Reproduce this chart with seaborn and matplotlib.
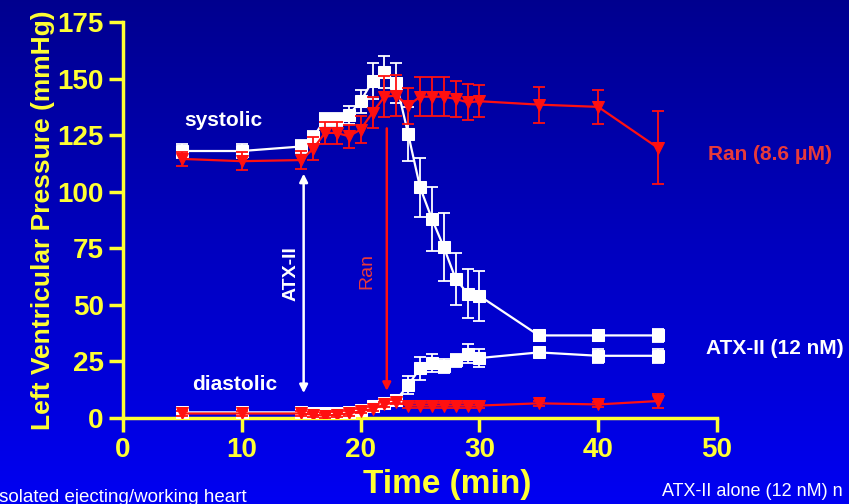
import numpy as np
import pandas as pd
import matplotlib
matplotlib.use("Agg")
import matplotlib.pyplot as plt
import seaborn as sns

# ---- data ----
time = [5, 10, 15, 16, 17, 18, 19, 20, 21, 22, 23, 24, 25, 26, 27, 28, 29, 30, 35, 40, 45]
atx_sys = [118, 118, 120, 124, 132, 132, 134, 140, 149, 153, 148, 125.5, 102, 88, 75.5, 61.5, 55, 54, 36.5, 36.5, 36.5]
atx_sys_err = [3, 3, 3, 3, 3, 3, 4, 5, 8, 7, 9, 12, 13, 14, 15, 11.5, 11, 11, 2.5, 2.5, 3]
ran_sys = [114.5, 113.5, 114, 119, 126, 126, 124.5, 127.5, 135, 142, 142.5, 138, 142, 142, 142, 141, 139.5, 140, 138.5, 137.5, 119.5]
ran_sys_err = [3, 4, 4, 5, 5, 5, 5, 6, 7, 9, 9, 8, 8.5, 8.5, 8.5, 8, 8, 7, 8, 7.5, 16]
atx_dia = [2.5, 2.5, 2.5, 2, 2, 2, 2.5, 3.5, 5.5, 6.5, 8, 14.5, 22, 24.5, 23, 25.5, 28.5, 26.5, 29, 27.5, 27.5]
atx_dia_err = [1, 1, 1, 1, 1, 1, 1, 1, 1, 1, 2, 4, 5, 4, 3, 3, 4, 4, 2, 3, 3]
ran_dia = [2, 2, 2, 1.5, 1, 1.5, 2, 3, 4, 6, 7, 5.5, 5.5, 5.5, 5.5, 5.5, 5.5, 5.5, 6.5, 6, 7.5]
ran_dia_err = [1, 1, 1, 1, 1, 1, 1, 1, 1, 1, 1, 1, 1, 1, 1, 1, 1, 1, 1, 1, 3]
xticks = [0, 10, 20, 30, 40, 50]
yticks = [0, 25, 50, 75, 100, 125, 150, 175]

sns.set_theme(style="ticks")
plt.rcParams['font.family'] = ['Liberation Sans', 'DejaVu Sans']

YEL = '#ffff33'
WHITE = '#ffffff'
RED = '#ff1010'
LRED = '#e83a3a'

fig = plt.figure(figsize=(8.49, 5.04), dpi=100)
# gradient background
bg = fig.add_axes([0, 0, 1, 1], zorder=-10)
grad = np.linspace(0, 1, 256).reshape(-1, 1)
top = np.array([0.0, 0.0, 0.56])
bot = np.array([0.0, 0.0, 0.95])
img = top[None, None, :] * (1 - grad[:, :, None]) + bot[None, None, :] * grad[:, :, None]
bg.imshow(img, aspect='auto', extent=[0, 1, 0, 1])
bg.axis('off')

ax = fig.add_axes([0.145, 0.1706, 0.6995, 0.7857])
ax.patch.set_alpha(0)

df = pd.DataFrame({'time': time, 'atx_sys': atx_sys, 'ran_sys': ran_sys,
                   'atx_dia': atx_dia, 'ran_dia': ran_dia})

series = [
    ('atx_sys', atx_sys_err, WHITE, 's', 8, 3),
    ('atx_dia', atx_dia_err, WHITE, 's', 8, 3),
    ('ran_sys', ran_sys_err, RED, 'v', 9, 4),
    ('ran_dia', ran_dia_err, RED, 'v', 9, 4),
]
for col, err, c, m, ms, z in series:
    ax.errorbar(df['time'], df[col], yerr=err, fmt='none', ecolor=c,
                elinewidth=1.3, capsize=4.5, capthick=1.3, zorder=z)
    sns.lineplot(data=df, x='time', y=col, ax=ax, color=c, marker=m,
                 markersize=ms, markeredgecolor=c, linewidth=1.6, zorder=z + 0.5)

ax.set_xlim(0, 50)
ax.set_ylim(0, 175)
ax.set_xticks(xticks)
ax.set_yticks(yticks)
for s in ['top', 'right']:
    ax.spines[s].set_visible(False)
for s in ['left', 'bottom']:
    ax.spines[s].set_color(YEL)
    ax.spines[s].set_linewidth(2.5)
ax.tick_params(axis='both', colors=YEL, width=2.5, length=10, direction='out',
               labelsize=20, pad=4)
for lab in ax.get_xticklabels() + ax.get_yticklabels():
    lab.set_fontweight('bold')
    lab.set_color(YEL)
ax.set_xlabel('Time (min)', color=YEL, fontsize=24, fontweight='bold')
ax.xaxis.set_label_coords(0.545, -0.128)
ax.set_ylabel('Left Ventricular Pressure (mmHg)', color=YEL, fontsize=19,
              fontweight='bold', labelpad=2)

# annotations
ax.text(8.4, 131.5, 'systolic', color=WHITE, fontsize=15, fontweight='bold',
        ha='center', va='center')
ax.text(9.4, 14.6, 'diastolic', color=WHITE, fontsize=15, fontweight='bold',
        ha='center', va='center')
ax.annotate('', xy=(15.2, 108), xytext=(15.2, 11),
            arrowprops=dict(arrowstyle='<|-|>', color=WHITE, lw=1.8, mutation_scale=12,
                            shrinkA=0, shrinkB=0))
ax.text(14.1, 64, 'ATX-II', color=WHITE, fontsize=14, fontweight='bold', rotation=90,
        ha='center', va='center')
ax.annotate('', xy=(22.2, 12), xytext=(22.2, 128),
            arrowprops=dict(arrowstyle='-|>', color=RED, lw=1.8, mutation_scale=12,
                            shrinkA=0, shrinkB=0))
ax.text(20.5, 65, 'Ran', color=LRED, fontsize=14, rotation=90,
        ha='center', va='center')

# right-hand labels
fig.text(708 / 849, 1 - 155 / 504, 'Ran (8.6 \u03bcM)', color=LRED, fontsize=15,
         fontweight='bold', ha='left', va='center')
fig.text(706 / 849, 1 - 349 / 504, 'ATX-II (12 nM)', color=WHITE, fontsize=15,
         fontweight='bold', ha='left', va='center')
fig.text(-5 / 849, 1 - 497 / 504, 'isolated ejecting/working heart', color=WHITE, fontsize=13.5,
         ha='left', va='center')
fig.text(662 / 849, 1 - 492 / 504, 'ATX-II alone (12 nM) n', color=WHITE, fontsize=13,
         ha='left', va='center')

fig.savefig('out.png', dpi=100)
